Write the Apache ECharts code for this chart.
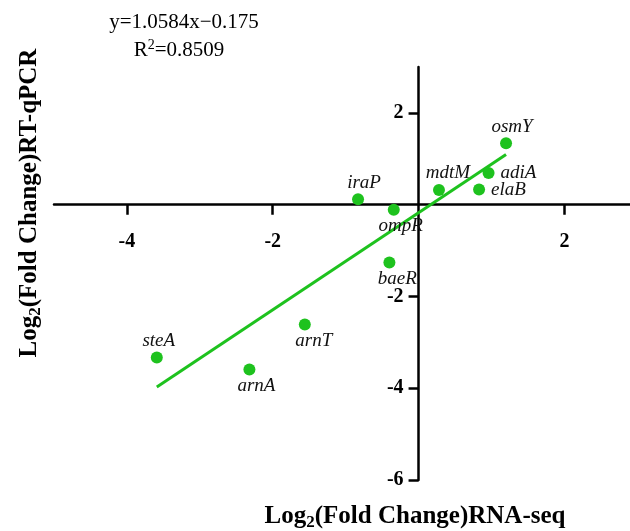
<!DOCTYPE html>
<html>
<head>
<meta charset="utf-8">
<script src="https://cdn.jsdelivr.net/npm/echarts@6/dist/echarts.min.js"></script>
<style>
	html, body { margin: 0; padding: 0; background: #fff; }
	#chart { width: 630px; height: 531px; }
</style>
</head>
<body>
<div id="chart"></div>
<script>
	// 基因名称与两种方法测得的 log2 倍数变化
	const genes = ['osmY', 'adiA', 'elaB', 'mdtM', 'iraP', 'ompR', 'baeR', 'steA', 'arnA', 'arnT'];
	const rnaSeq = [1.20, 0.96, 0.83, 0.28, -0.83, -0.34, -0.40, -3.59, -2.32, -1.56];
	const rtqPcr = [1.34, 0.69, 0.33, 0.32, 0.12, -0.11, -1.26, -3.33, -3.59, -2.61];
	const xTicks = [-4, -2, 2];
	const yTicks = [2, -2, -4, -6];
	// 线性回归
	const slope = 1.0584;
	const intercept = -0.175;
	const r2 = 0.8509;

	const green = '#1ec21e';
	const serif = "'Liberation Serif', 'Times New Roman', serif";

	// 坐标范围与绘图区
	const xRange = [-5, 2.9];
	const yRange = [-6, 3];
	const plot = { left: 54, top: 67, width: 576, height: 413 };
	// 坐标轴交于原点：用 offset 把轴线移到 0 处
	const xAxisOffset = -plot.height * (0 - yRange[0]) / (yRange[1] - yRange[0]);
	const yAxisOffset = -plot.width * (0 - xRange[0]) / (xRange[1] - xRange[0]);

	// 标签位置 [方位, 水平偏移]
	const labelPlace = {
		osmY: ['top', 6], adiA: ['right', 5], elaB: ['right', 5], mdtM: ['top', 9],
		iraP: ['top', 6], ompR: ['bottom', 7], baeR: ['bottom', 8], steA: ['top', 2],
		arnA: ['bottom', 7], arnT: ['bottom', 9]
	};

	const points = genes.map((g, i) => ({
		name: g,
		value: [rnaSeq[i], rtqPcr[i]],
		label: {
			position: labelPlace[g][0],
			offset: [labelPlace[g][1], 0]
		}
	}));

	const xMin = Math.min(...rnaSeq);
	const xMax = Math.max(...rnaSeq);
	const fitLine = [
		[xMin, slope * xMin + intercept],
		[xMax, slope * xMax + intercept]
	];

	const titleRich = {
		a: { fontFamily: serif, fontWeight: 'bold', fontSize: 25, color: '#000' },
		s: { fontFamily: serif, fontWeight: 'bold', fontSize: 17, color: '#000', padding: [12, 0, 0, 0] }
	};

	const axisColor = { color: '#000', width: 2.5 };

	const myChart = echarts.init(document.getElementById('chart'));
	const option = {
		backgroundColor: '#fff',
		animation: false,
		grid: plot,
		xAxis: {
			type: 'value',
			min: xRange[0],
			max: xRange[1],
			position: 'bottom',
			offset: xAxisOffset,
			axisLine: { onZero: false, lineStyle: axisColor },
			axisTick: { show: true, length: 10, customValues: xTicks, lineStyle: axisColor },
			axisLabel: {
				customValues: xTicks,
				margin: 27,
				color: '#000',
				fontFamily: serif,
				fontWeight: 'bold',
				fontSize: 20
			},
			splitLine: { show: false }
		},
		yAxis: {
			type: 'value',
			min: yRange[0],
			max: yRange[1],
			position: 'left',
			offset: yAxisOffset,
			axisLine: { onZero: false, lineStyle: axisColor },
			axisTick: { show: true, length: 10, customValues: yTicks, lineStyle: axisColor },
			axisLabel: {
				customValues: yTicks,
				margin: 15,
				color: '#000',
				fontFamily: serif,
				fontWeight: 'bold',
				fontSize: 20
			},
			splitLine: { show: false }
		},
		graphic: [
			{
				type: 'text', x: 184, y: 22,
				style: { text: 'y=' + slope + 'x\u2212' + Math.abs(intercept), font: '21px ' + serif, fill: '#000', align: 'center', verticalAlign: 'middle' }
			},
			{
				type: 'text', x: 179, y: 50,
				style: {
					text: '{a|R}{p|2}{a|=' + r2 + '}',
					align: 'center', verticalAlign: 'middle',
					rich: {
						a: { fontFamily: serif, fontSize: 21, color: '#000' },
						p: { fontFamily: serif, fontSize: 14, color: '#000', padding: [0, 0, 9, 0] }
					}
				}
			},
			{
				type: 'text', x: 415, y: 517,
				style: { text: '{a|Log}{s|2}{a|(Fold Change)RNA-seq}', align: 'center', verticalAlign: 'middle', rich: titleRich }
			},
			{
				type: 'text', x: 30, y: 203, rotation: Math.PI / 2,
				style: { text: '{a|Log}{s|2}{a|(Fold Change)RT-qPCR}', align: 'center', verticalAlign: 'middle', rich: titleRich }
			}
		],
		series: [
			{
				name: 'fit',
				type: 'line',
				data: fitLine,
				showSymbol: false,
				lineStyle: { color: green, width: 3 },
				z: 2
			},
			{
				name: 'genes',
				type: 'scatter',
				data: points,
				symbolSize: 12,
				itemStyle: { color: green, opacity: 1 },
				label: {
					show: true,
					formatter: '{b}',
					distance: 1,
					color: '#111',
					fontFamily: serif,
					fontStyle: 'italic',
					fontSize: 19
				},
				z: 3
			}
		]
	};
	myChart.setOption(option);
</script>
</body>
</html>
